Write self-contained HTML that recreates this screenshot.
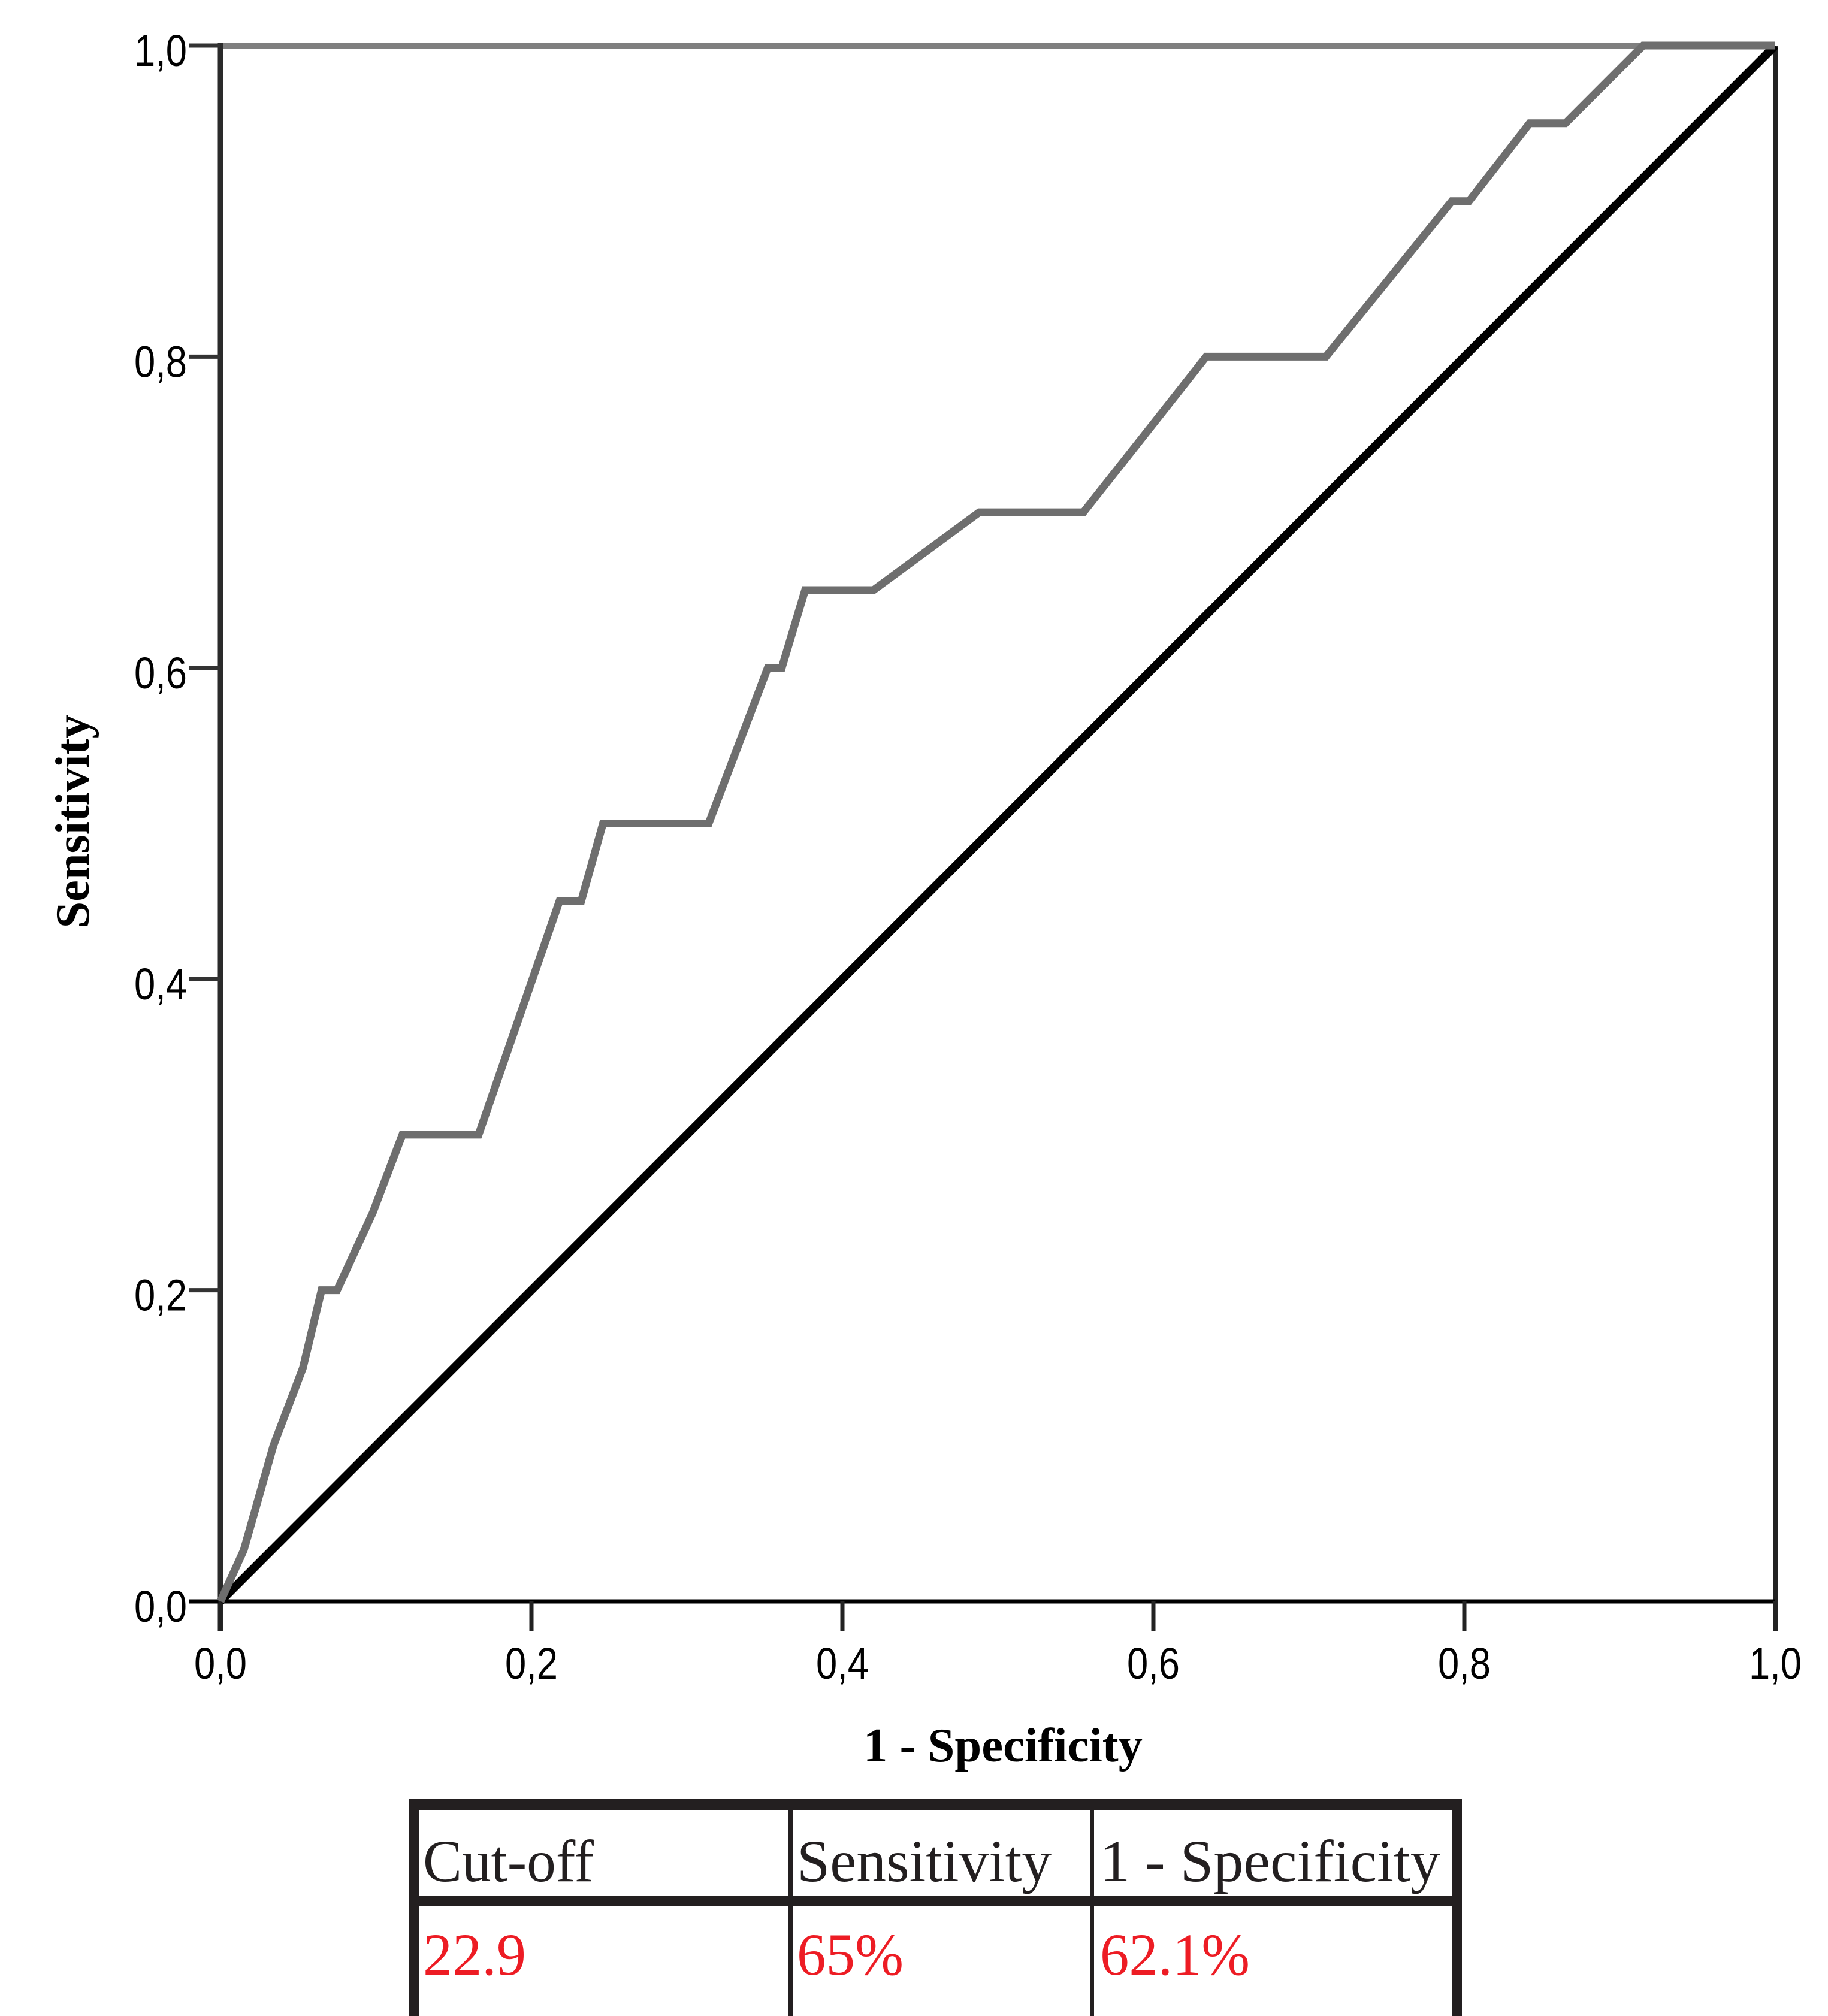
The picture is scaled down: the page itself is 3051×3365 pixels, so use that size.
<!DOCTYPE html>
<html><head><meta charset="utf-8"><style>
html,body{margin:0;padding:0;background:#fff;}
svg{display:block;}
</style></head><body>
<svg width="3051" height="3365" viewBox="0 0 3051 3365" xmlns="http://www.w3.org/2000/svg">
<rect x="0" y="0" width="3051" height="3365" fill="#fff"/>
<g id="plot"></g>
<g id="table">
  <rect x="683" y="3003" width="1757" height="18" fill="#231f20"/>
  <rect x="683" y="3164" width="1757" height="18" fill="#231f20"/>
  <rect x="683" y="3003" width="16" height="362" fill="#231f20"/>
  <rect x="2424" y="3003" width="16" height="362" fill="#231f20"/>
  <rect x="1316" y="3003" width="7" height="362" fill="#231f20"/>
  <rect x="1819" y="3003" width="7" height="362" fill="#231f20"/>
  <g font-family="'Liberation Serif', serif" font-size="100" fill="#231f20">
    <text x="706" y="3140" textLength="285" lengthAdjust="spacingAndGlyphs">Cut-off</text>
    <text x="1330" y="3140" textLength="425" lengthAdjust="spacingAndGlyphs">Sensitivity</text>
    <text x="1836" y="3140" textLength="568" lengthAdjust="spacingAndGlyphs">1 - Specificity</text>
  </g>
  <g font-family="'Liberation Serif', serif" font-size="100" fill="#ed1c24">
    <text x="706" y="3296" textLength="172" lengthAdjust="spacingAndGlyphs">22.9</text>
    <text x="1330" y="3296" textLength="178" lengthAdjust="spacingAndGlyphs">65%</text>
    <text x="1836" y="3296" textLength="250" lengthAdjust="spacingAndGlyphs">62.1%</text>
  </g>
</g>
</svg>
<script>
const fprValues = [0, 0.015, 0.034, 0.053, 0.065, 0.075, 0.098, 0.117, 0.166, 0.218, 0.232, 0.246, 0.314, 0.352, 0.361, 0.376, 0.42, 0.488, 0.555, 0.634, 0.711, 0.792, 0.803, 0.842, 0.865, 0.915, 1.0];
const tprValues = [0, 0.033, 0.10, 0.15, 0.20, 0.20, 0.25, 0.30, 0.30, 0.45, 0.45, 0.50, 0.50, 0.60, 0.60, 0.65, 0.65, 0.70, 0.70, 0.80, 0.80, 0.90, 0.90, 0.95, 0.95, 1.0, 1.0];
const tickValues = [0, 0.2, 0.4, 0.6, 0.8, 1.0];
const tickLabels = ["0,0", "0,2", "0,4", "0,6", "0,8", "1,0"];

const SVGNS = "http://www.w3.org/2000/svg";
const PX0 = 368, PX1 = 2963, PY0 = 2673, PY1 = 76;
function xScale(v){ return PX0 + v * (PX1 - PX0); }
function yScale(v){ return PY0 - v * (PY0 - PY1); }
const plotGroup = document.getElementById('plot');
function mk(tag, attrs){ const e = document.createElementNS(SVGNS, tag); for (const k in attrs) e.setAttribute(k, attrs[k]); plotGroup.appendChild(e); return e; }

const frameTop = mk('line', {x1: PX0, y1: PY1, x2: PX1, y2: PY1, stroke: '#7f7f7f', 'stroke-width': 10});


const frameRight = mk('line', {x1: PX1, y1: PY1, x2: PX1, y2: PY0 + 50, stroke: '#222', 'stroke-width': 8});


const yAxisLine = mk('line', {x1: PX0, y1: PY1 - 4, x2: PX0, y2: PY0 + 50, stroke: '#2a2a2a', 'stroke-width': 9});


const xAxisLine = mk('line', {x1: PX0, y1: PY0, x2: PX1, y2: PY0, stroke: '#000', 'stroke-width': 7});



tickValues.forEach((v, i) => {
  const ty = yScale(v);
  const t = mk('line', {x1: PX0 - 52, y1: ty, x2: PX0, y2: ty, stroke: i === 0 ? '#000' : '#333', 'stroke-width': 7});
  
  
  const l = mk('text', {x: 312, y: ty + 34, 'text-anchor': 'end', 'font-family': "'Liberation Sans', sans-serif", 'font-size': 74, fill: '#000', textLength: 88, lengthAdjust: 'spacingAndGlyphs'});
  l.textContent = tickLabels[i];
  
  
  const tx = xScale(v);
  const xt = mk('line', {x1: tx, y1: PY0, x2: tx, y2: PY0 + 50, stroke: '#222', 'stroke-width': 7});
  
  
  const xl = mk('text', {x: tx, y: 2802, 'text-anchor': 'middle', 'font-family': "'Liberation Sans', sans-serif", 'font-size': 74, fill: '#000', textLength: 88, lengthAdjust: 'spacingAndGlyphs'});
  xl.textContent = tickLabels[i];
  
  
});

const diagLine = mk('line', {x1: xScale(0), y1: yScale(0), x2: xScale(1), y2: yScale(1), stroke: '#000', 'stroke-width': 14});



const curvePts = fprValues.map((f, i) => xScale(f).toFixed(1) + ',' + yScale(tprValues[i]).toFixed(1)).join(' ');
const rocCurve = mk('polyline', {points: curvePts, fill: 'none', stroke: '#6e6e6e', 'stroke-width': 13, 'stroke-linejoin': 'miter'});



const yTitle = mk('text', {x: 0, y: 0, transform: 'translate(148,1371) rotate(-90)', 'text-anchor': 'middle', 'font-family': "'Liberation Serif', serif", 'font-weight': 'bold', 'font-size': 80, fill: '#000', textLength: 357, lengthAdjust: 'spacingAndGlyphs'});
yTitle.textContent = 'Sensitivity';


const xTitle = mk('text', {x: 1674, y: 2940, 'text-anchor': 'middle', 'font-family': "'Liberation Serif', serif", 'font-weight': 'bold', 'font-size': 80, fill: '#000', textLength: 466, lengthAdjust: 'spacingAndGlyphs'});
xTitle.textContent = '1 - Specificity';


</script>
</body></html>
